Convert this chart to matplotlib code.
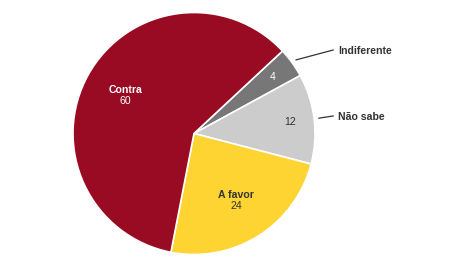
import numpy as np
import matplotlib.pyplot as plt

labels = ["Indiferente", "Não sabe", "A favor", "Contra"]
values = [4, 12, 24, 60]
colors = ["#777777", "#cccccc", "#fdd431", "#990a23"]

plt.rcParams['font.family'] = ['Liberation Sans', 'DejaVu Sans']

fig = plt.figure(figsize=(4.7, 2.64), dpi=100)
ax = fig.add_axes([0, 0, 1, 1])

wedges, _ = ax.pie(values, colors=colors, startangle=43, counterclock=False,
                   radius=1, center=(0, 0), frame=True,
                   wedgeprops=dict(edgecolor='white', linewidth=1.2))
ax.set_xlim(-194 / 121, 276 / 121)
ax.set_ylim(-130.5 / 121, 133.5 / 121)
ax.axis('off')

fs = 7.6
for w, lab, val in zip(wedges, labels, values):
    mid = np.deg2rad((w.theta1 + w.theta2) / 2)
    if lab in ("Contra", "A favor"):
        r = 0.65
        col = "white" if lab == "Contra" else "#333333"
        x, y = r * np.cos(mid), r * np.sin(mid)
        ax.text(x, y + 0.045, lab, ha='center', va='center', fontsize=fs,
                fontweight='bold', color=col)
        ax.text(x, y - 0.048, str(val), ha='center', va='center', fontsize=fs,
                color=col)
    else:
        r = 0.8
        col = "white" if lab == "Indiferente" else "#333333"
        ax.text(r * np.cos(mid), r * np.sin(mid), str(val), ha='center',
                va='center', fontsize=fs, color=col)
        x0, y0 = 1.04 * np.cos(mid), 1.04 * np.sin(mid)
        ty = 0.68 if lab == "Indiferente" else 0.135
        ax.plot([x0, 1.15], [y0, ty + 0.01], color='#333333', lw=0.9)
        ax.text(1.19, ty, lab, ha='left', va='center', fontsize=fs,
                fontweight='bold', color='#333333')

fig.savefig("out.png", dpi=100)
